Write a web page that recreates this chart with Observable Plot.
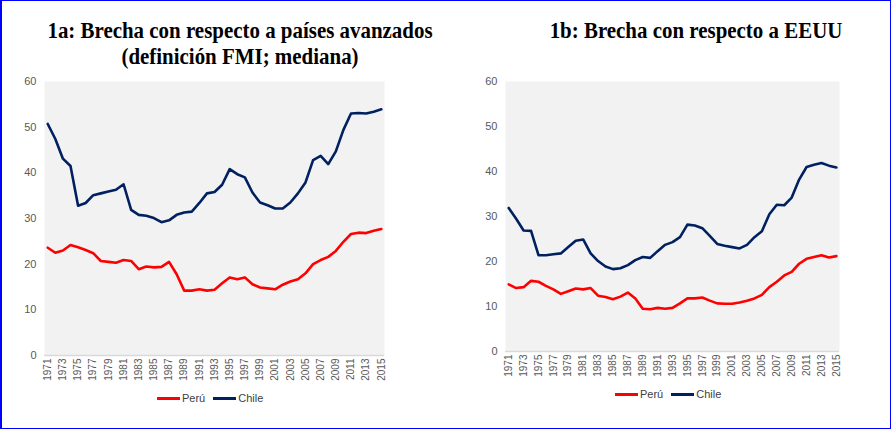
<!DOCTYPE html>
<html><head><meta charset="utf-8">
<script src="https://cdn.jsdelivr.net/npm/d3@7"></script>
<script src="https://cdn.jsdelivr.net/npm/@observablehq/plot@0.6"></script>
<style>
html,body{margin:0;padding:0;background:#fff;}
#wrap{position:relative;width:891px;height:429px;box-sizing:border-box;border:1px solid #0000ff;border-left:2px solid #0000ff;overflow:hidden;font-family:Arial,"Liberation Sans",sans-serif;}
.title{position:absolute;font-family:"Liberation Serif","Times New Roman",serif;font-weight:bold;font-size:22.5px;color:#000;text-align:center;line-height:26px;white-space:nowrap;transform:scaleX(0.93);transform-origin:center top;}
.plot{position:absolute;}
.legend{position:absolute;font-size:11px;color:#404040;display:flex;align-items:center;white-space:nowrap;}
.legend .sw{display:inline-block;width:23px;height:3px;margin-right:2px;}
.legend .it{display:flex;align-items:center;margin-right:8px;}
</style></head>
<body>
<div id="wrap">
  <div class="title" style="left:-2px;width:480px;top:17px;">1a: Brecha con respecto a países avanzados<br>(definición FMI; mediana)</div>
  <div class="title" style="left:454px;width:480px;top:17px;">1b: Brecha con respecto a EEUU</div>
  <div id="p1" class="plot" style="left:-2px;top:68px;"></div>
  <div id="p2" class="plot" style="left:458px;top:68px;"></div>
  <div class="legend" style="left:155px;top:391px;">
    <span class="it"><span class="sw" style="background:#ff0000"></span>Perú</span>
    <span class="it"><span class="sw" style="background:#002060"></span>Chile</span>
  </div>
  <div class="legend" style="left:613px;top:387px;">
    <span class="it"><span class="sw" style="background:#ff0000"></span>Perú</span>
    <span class="it"><span class="sw" style="background:#002060"></span>Chile</span>
  </div>
</div>
<script>
const years = d3.range(1971, 2016);
const xTicks = d3.range(1971, 2016, 2);
const yTicks = [0, 10, 20, 30, 40, 50, 60];
const seriesNames = ["Perú", "Chile"];
const seriesColors = ["#ff0000", "#002060"];

const leftPeru = [23.6,22.5,23.0,24.2,23.7,23.1,22.4,20.7,20.5,20.3,20.9,20.7,18.9,19.5,19.3,19.4,20.5,17.8,14.2,14.2,14.5,14.2,14.4,15.8,17.1,16.7,17.1,15.6,14.9,14.7,14.5,15.5,16.2,16.7,18.0,20.0,20.9,21.6,22.9,24.9,26.6,26.9,26.8,27.3,27.7];
const leftChile = [50.7,47.4,43.1,41.5,32.8,33.4,35.1,35.5,35.9,36.3,37.5,31.9,30.8,30.6,30.1,29.2,29.6,30.8,31.3,31.5,33.4,35.5,35.8,37.4,40.8,39.7,39.0,35.7,33.5,32.9,32.2,32.2,33.5,35.5,37.9,42.8,43.7,41.9,44.7,49.4,53.0,53.1,53.0,53.4,53.9];
const rightPeru = [14.9,14.1,14.3,15.7,15.5,14.6,13.8,12.8,13.4,14.0,13.8,14.1,12.4,12.1,11.6,12.2,13.1,11.8,9.5,9.4,9.7,9.5,9.7,10.7,11.8,11.8,12.0,11.3,10.7,10.6,10.6,10.9,11.3,11.8,12.6,14.3,15.5,16.9,17.7,19.5,20.6,21.0,21.4,20.9,21.2];
const rightChile = [31.9,29.5,26.9,26.8,21.4,21.4,21.6,21.8,23.2,24.6,24.9,21.8,20.1,18.9,18.3,18.5,19.2,20.3,21.0,20.8,22.3,23.7,24.3,25.4,28.2,28.0,27.4,25.7,23.9,23.5,23.2,22.9,23.7,25.4,26.7,30.5,32.6,32.5,34.2,38.2,41.0,41.5,41.9,41.3,40.9];

function makeTable(peru, chile) {
  const rows = [];
  [peru, chile].forEach((arr, i) => arr.forEach((v, j) => rows.push({year: years[j], value: v, series: seriesNames[i]})));
  return rows;
}

function chart(peru, chile, opts) {
  const data = makeTable(peru, chile);
  return Plot.plot({
    width: opts.width,
    height: opts.height,
    marginLeft: opts.marginLeft,
    marginRight: opts.marginRight,
    marginTop: 12,
    marginBottom: 30,
    style: {fontFamily: "Arial, 'Liberation Sans', sans-serif", fontSize: "11px", color: "#595959", background: "transparent", overflow: "visible"},
    x: {type: "linear", domain: [1970.57, 2015.42], label: null},
    y: {domain: [0, 60], label: null},
    color: {domain: seriesNames, range: seriesColors},
    marks: [
      Plot.frame({fill: "#f2f2f2", stroke: null}),
      Plot.ruleY([0], {stroke: "#d9d9d9", strokeWidth: 1.5}),
      Plot.axisX({ticks: xTicks, tickFormat: d => String(d), tickRotate: -90, tickSize: 0, tickPadding: 3, fontSize: 10, fill: "#595959", label: null}),
      Plot.axisY({ticks: yTicks, tickSize: 0, tickPadding: 8, fontSize: 11, fill: "#595959", label: null}),
      Plot.line(data, {x: "year", y: "value", z: "series", stroke: "series", strokeWidth: 2.6, strokeLinejoin: "round", strokeLinecap: "round"})
    ]
  });
}

document.getElementById("p1").appendChild(chart(leftPeru, leftChile, {width: 404, height: 316, marginLeft: 44, marginRight: 20}));
document.getElementById("p2").appendChild(chart(rightPeru, rightChile, {width: 404, height: 312, marginLeft: 45, marginRight: 25}));
</script>
</body></html>
